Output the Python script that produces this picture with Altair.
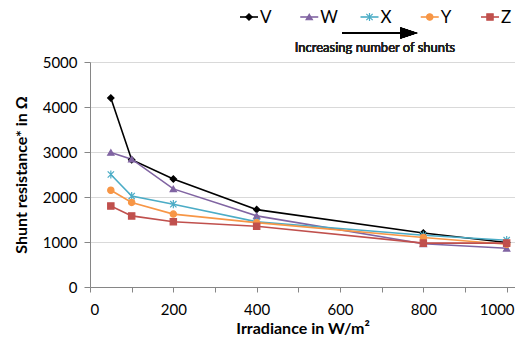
import altair as alt
import pandas as pd

irradiance = [50, 100, 200, 400, 800, 1000]
series_names = ["V", "W", "X", "Y", "Z"]
V = [4200, 2830, 2400, 1720, 1200, 990]
W = [2990, 2840, 2180, 1580, 960, 860]
X = [2500, 2020, 1840, 1450, 1150, 1040]
Y = [2150, 1880, 1620, 1430, 1100, 950]
Z = [1800, 1580, 1450, 1350, 975, 975]
x_ticks = list(range(0, 1001, 100))
y_ticks = [0, 1000, 2000, 3000, 4000, 5000]

colors = ["#000000", "#8064a2", "#4bacc6", "#f79646", "#c0504d"]
asterisk = "M-1,-1L1,1M-1,1L1,-1M0,-1.3L0,1.3"
shapes = ["diamond", "triangle-up", asterisk, "circle", "square"]

rows = []
for name, vals in zip(series_names, [V, W, X, Y, Z]):
    for xv, yv in zip(irradiance, vals):
        rows.append({"irr": xv, "R": yv, "s": name})
df = pd.DataFrame(rows)
leg = pd.DataFrame({"s": series_names})

FONT = "Lato"
cscale = alt.Scale(domain=series_names, range=colors)
sscale = alt.Scale(domain=series_names, range=shapes)

xenc = alt.X("irr:Q", scale=alt.Scale(domain=[0, 1020], nice=False),
             axis=alt.Axis(values=x_ticks, format="d",
                           labelExpr="datum.value % 200 === 0 ? datum.label : ''",
                           labelOffset={"condition": {"test": "datum.value === 1000", "value": -10},
                                        "value": 0},
                           title="Irradiance in W/m²", grid=False, tickSize=5, labelPadding=10,
                           titlePadding=3))
yenc = alt.Y("R:Q", scale=alt.Scale(domain=[0, 5000], nice=False),
             axis=alt.Axis(values=y_ticks, format="d", title="Shunt resistance* in Ω", grid=True,
                           tickSize=6, labelPadding=7, titlePadding=13))

lines = alt.Chart(df).mark_line(strokeWidth=1.6).encode(
    x=xenc, y=yenc,
    color=alt.Color("s:N", scale=cscale, legend=None),
    detail="s:N",
)

points = alt.Chart(df).mark_point(filled=True, size=40, opacity=1, strokeWidth=1.2).encode(
    x=xenc, y=yenc,
    color=alt.Color("s:N", scale=cscale, legend=None),
    stroke=alt.Stroke("s:N", scale=cscale, legend=None),
    shape=alt.Shape("s:N", scale=sscale, legend=None),
)

# legend built from the series list
lx = alt.X("s:N", sort=series_names,
           scale=alt.Scale(type="point", domain=series_names, range=[159, 400], padding=0),
           axis=None)
leg_line = alt.Chart(leg).mark_tick(orient="horizontal", size=18, thickness=1.6, opacity=1).encode(
    x=lx, y=alt.value(-45), color=alt.Color("s:N", scale=cscale, legend=None))
leg_pt = alt.Chart(leg).mark_point(filled=True, size=40, opacity=1, strokeWidth=1.2).encode(
    x=lx, y=alt.value(-45),
    color=alt.Color("s:N", scale=cscale, legend=None),
    stroke=alt.Stroke("s:N", scale=cscale, legend=None),
    shape=alt.Shape("s:N", scale=sscale, legend=None))
leg_txt = alt.Chart(leg).mark_text(align="left", baseline="middle", dx=11, font=FONT,
                                   fontSize=17, color="#000000").encode(
    x=lx, y=alt.value(-44), text="s:N")

arrow_line = alt.Chart(leg).mark_rule(color="#000000", strokeWidth=1.6).encode(
    x=alt.value(252), x2=alt.value(314), y=alt.value(-29))
arrow_head = alt.Chart(leg).mark_point(shape="M-1,-0.65L1,0L-1,0.65Z", filled=True, color="#000000",
                                       size=300, opacity=1).encode(
    x=alt.value(319), y=alt.value(-29))
arrow_text = alt.Chart(leg).mark_text(text="Increasing number of shunts", font=FONT, fontSize=13,
                                      color="#222222", align="center", baseline="middle").encode(
    x=alt.value(285), y=alt.value(-14))

data_layer = alt.layer(lines, points)
legend_layer = alt.layer(leg_line, leg_pt, leg_txt, arrow_line, arrow_head, arrow_text)

chart = alt.layer(data_layer, legend_layer).resolve_scale(x="independent").properties(
    width=425, height=225,
    autosize=alt.AutoSizeParams(type="none"),
    padding={"left": 82, "top": 54, "right": 0, "bottom": 49},
).configure_view(stroke=None).configure_axis(
    labelFont=FONT, labelFontSize=15, labelColor="#000000",
    titleFont=FONT, titleFontSize=16, titleFontWeight="bold", titleColor="#000000",
    domainColor="#868686", tickColor="#868686", gridColor="#d9d9d9", domainWidth=1,
)

chart.save("out.html", embed_options={"renderer": "svg", "actions": False})
